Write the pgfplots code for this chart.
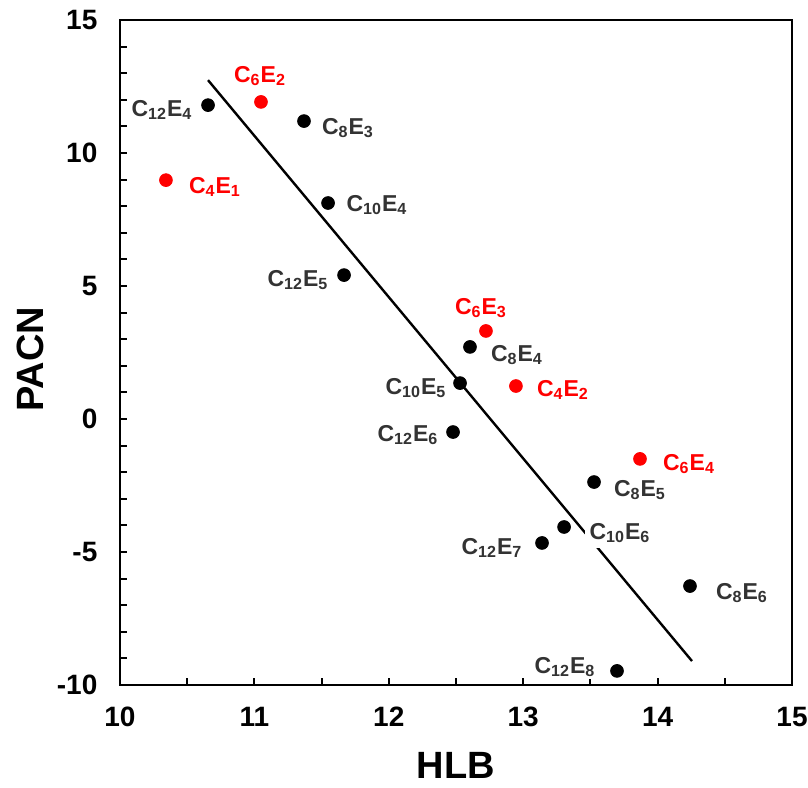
\documentclass[border=0pt]{standalone}
\usepackage{fontspec}
\setmainfont{Liberation Sans}
\usepackage{pgfplots}
\pgfplotsset{compat=1.18}
\usetikzlibrary{calc}
\definecolor{lbl}{HTML}{333333}
\tikzset{
  lab/.style={font=\fontsize{11.5}{13}\selectfont\bfseries, text=lbl, fill=white, inner sep=1pt},
  rlab/.style={font=\fontsize{11.5}{13}\selectfont\bfseries, text=red, fill=white, inner sep=1pt},
}

\begin{document}
\begin{tikzpicture}
\begin{axis}[
  scale only axis, width=336pt, height=332.5pt,
  xmin=10, xmax=15, ymin=-10, ymax=15,
  xtick={10,11,12,13,14,15}, xticklabels={10,11,12,13,14,15},
  ytick={-10,-5,0,5,10,15}, yticklabels={-10,-5,0,5,10,15},
  minor x tick num=1, minor y tick num=4,
  tick align=inside, tick pos=left,
  major tick length=3.5pt, minor tick length=3.5pt,
  every tick/.style={line width=1pt, black},
  axis line style={line width=1.3pt},
  ticklabel style={font=\fontsize{14}{16}\selectfont\bfseries},
  xticklabel style={yshift=-7.5pt},
  yticklabel style={xshift=-7.8pt},
  xlabel={HLB}, ylabel={PACN},
  label style={font=\fontsize{19}{21}\selectfont\bfseries},
  xlabel style={at={(axis description cs:0.5,-0.121)}, anchor=center},
  ylabel style={at={(axis description cs:-0.133,0.49)}, anchor=center},
  clip=false,
]
% fitted line
\addplot[black, line width=1.2pt, no marks] coordinates {(10.655,12.74) (14.256,-9.10)};
% black points
\addplot[only marks, mark=*, mark size=3.2pt, black] table {
x y
10.655 11.80
11.369 11.20
11.548 8.12
11.667 5.41
12.604 2.71
12.530 1.35
12.478 -0.49
13.527 -2.37
13.304 -4.06
13.140 -4.66
14.241 -6.28
13.698 -9.47
};
% red points
\addplot[only marks, mark=*, mark size=3.2pt, red] table {
x y
11.049 11.92
10.342 8.98
12.723 3.31
12.946 1.24
13.869 -1.50
};
% labels
\node[lab] at (axis cs:10.3125,11.617) {C\textsubscript{12}E\textsubscript{4}};
\node[rlab] at (axis cs:11.042,12.895) {C\textsubscript{6}E\textsubscript{2}};
\node[lab] at (axis cs:11.696,10.94) {C\textsubscript{8}E\textsubscript{3}};
\node[rlab] at (axis cs:10.707,8.722) {C\textsubscript{4}E\textsubscript{1}};
\node[lab] at (axis cs:11.912,8.045) {C\textsubscript{10}E\textsubscript{4}};
\node[lab] at (axis cs:11.324,5.226) {C\textsubscript{12}E\textsubscript{5}};
\node[rlab] at (axis cs:12.686,4.173) {C\textsubscript{6}E\textsubscript{3}};
\node[lab] at (axis cs:12.954,2.406) {C\textsubscript{8}E\textsubscript{4}};
\node[lab] at (axis cs:12.202,1.165) {C\textsubscript{10}E\textsubscript{5}};
\node[rlab] at (axis cs:13.296,1.09) {C\textsubscript{4}E\textsubscript{2}};
\node[lab] at (axis cs:12.143,-0.60) {C\textsubscript{12}E\textsubscript{6}};
\node[rlab] at (axis cs:14.234,-1.69) {C\textsubscript{6}E\textsubscript{4}};
\node[lab] at (axis cs:13.869,-2.67) {C\textsubscript{8}E\textsubscript{5}};
\node[lab, inner sep=2.5pt] at (axis cs:13.720,-4.286) {C\textsubscript{10}E\textsubscript{6}};
\node[lab] at (axis cs:12.768,-4.85) {C\textsubscript{12}E\textsubscript{7}};
\node[lab] at (axis cs:14.628,-6.54) {C\textsubscript{8}E\textsubscript{6}};
\node[lab] at (axis cs:13.311,-9.32) {C\textsubscript{12}E\textsubscript{8}};
\end{axis}
\pgfresetboundingbox
\path ($(current axis.south west)+(-60pt,-51pt)$) rectangle ($(current axis.north east)+(8pt,10pt)$);
\end{tikzpicture}
\end{document}
